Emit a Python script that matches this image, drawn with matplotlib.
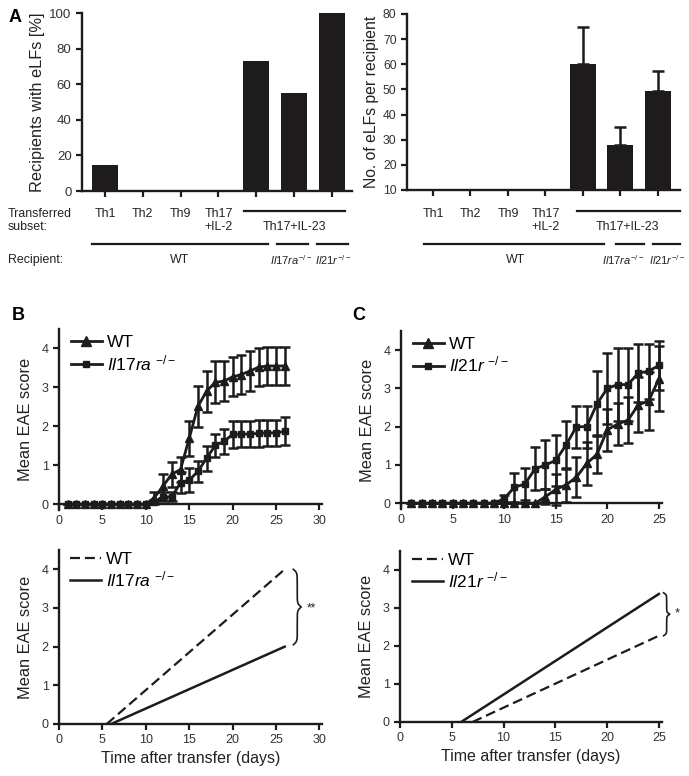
import numpy as np
import matplotlib
matplotlib.use("Agg")
import matplotlib.pyplot as plt
from matplotlib.transforms import blended_transform_factory
from matplotlib.lines import Line2D

plt.rcParams.update({
    "font.family": ["Liberation Sans", "DejaVu Sans"],
    "mathtext.fontset": "custom",
    "mathtext.rm": "Liberation Sans",
    "mathtext.it": "Liberation Sans:italic",
    "mathtext.bf": "Liberation Sans:bold",
    "axes.linewidth": 1.6,
})

# ---------------- data ----------------
subsets = ["Th1", "Th2", "Th9", "Th17\n+IL-2", "Th17+IL-23", "Th17+IL-23", "Th17+IL-23"]
pct_with_elf = [14.5, 0, 0, 0, 73, 55, 100]
elf_per_recipient = [0, 0, 0, 0, 60, 28, 49.5]
elf_per_recipient_err = [0, 0, 0, 0, 15, 7, 8]

days_B = list(range(1, 27))
wt_B = [0] * 10 + [0.17, 0.47, 0.77, 0.89, 1.69, 2.51, 2.9, 3.13, 3.16, 3.27, 3.33, 3.42, 3.52, 3.55, 3.55, 3.55]
wt_B_err = [0] * 10 + [0.15, 0.3, 0.32, 0.33, 0.45, 0.52, 0.52, 0.54, 0.52, 0.5, 0.5, 0.52, 0.48, 0.5, 0.5, 0.5]
il17ra_B = [0] * 10 + [0.06, 0.19, 0.19, 0.55, 0.62, 0.84, 1.18, 1.51, 1.61, 1.79, 1.8, 1.8, 1.82, 1.83, 1.83, 1.87]
il17ra_B_err = [0] * 10 + [0.05, 0.12, 0.12, 0.27, 0.3, 0.27, 0.32, 0.3, 0.33, 0.34, 0.34, 0.34, 0.34, 0.34, 0.34, 0.36]

days_C = list(range(1, 26))
wt_C = [0] * 13 + [0.17, 0.36, 0.48, 0.68, 1.04, 1.28, 1.92, 2.07, 2.17, 2.57, 2.67, 3.25]
wt_C_err = [0] * 13 + [0.2, 0.4, 0.45, 0.52, 0.55, 0.5, 0.55, 0.55, 0.6, 0.72, 0.75, 0.85]
il21r_C = [0] * 9 + [0.12, 0.42, 0.5, 0.9, 1.0, 1.12, 1.52, 2.0, 2.0, 2.6, 3.0, 3.1, 3.1, 3.4, 3.45, 3.6]
il21r_C_err = [0] * 9 + [0.1, 0.38, 0.42, 0.56, 0.64, 0.66, 0.62, 0.55, 0.55, 0.85, 0.93, 0.95, 0.95, 0.75, 0.72, 0.65]

fit_B_wt_x, fit_B_wt_y = [5.5, 26], [0, 4.0]
fit_B_ko_x, fit_B_ko_y = [6.0, 26], [0, 2.0]
fit_C_wt_x, fit_C_wt_y = [7.0, 25], [0, 2.27]
fit_C_ko_x, fit_C_ko_y = [5.9, 25], [0, 3.37]

# ---------------- figure ----------------
W, H = 689, 776
fig = plt.figure(figsize=(W / 100, H / 100), dpi=100)
DARK = "#1e1b1c"
TICKC = "#333333"
TXT = "#222222"


def add_ax(l, t, r, b):
    return fig.add_axes([l / W, 1 - b / H, (r - l) / W, (b - t) / H])


def style(ax, labelsize=9):
    for s in ("top", "right"):
        ax.spines[s].set_visible(False)
    for s in ("left", "bottom"):
        ax.spines[s].set_color(DARK)
        ax.spines[s].set_linewidth(1.7)
    ax.tick_params(direction="out", length=4.5, width=1.6, color=DARK,
                   labelsize=labelsize, labelcolor=TICKC, pad=3)


def yfig(ypix):
    return 1 - ypix / H


# ---------- Panel A left ----------
xcat = np.arange(len(subsets))
axA1 = add_ax(82, 13, 352, 191)
style(axA1, 9.5)
axA1.bar(xcat, pct_with_elf, width=0.69, color=DARK)
axA1.set_xlim(-0.608, 6.53)
axA1.set_ylim(0, 100)
axA1.set_yticks([0, 20, 40, 60, 80, 100])
axA1.set_xticks(xcat)
axA1.set_xticklabels([])
axA1.set_ylabel("Recipients with eLFs [%]", fontsize=11.8, labelpad=3, color=TXT)

# ---------- Panel A right ----------
axA2 = add_ax(407, 14, 680, 190)
style(axA2, 8.8)
axA2.bar(xcat, elf_per_recipient, width=0.69, color=DARK)
err_idx = [i for i, e in enumerate(elf_per_recipient_err) if e > 0]
axA2.errorbar([xcat[i] for i in err_idx], [elf_per_recipient[i] for i in err_idx],
              yerr=[[0] * len(err_idx), [elf_per_recipient_err[i] for i in err_idx]],
              fmt="none", ecolor=DARK, elinewidth=1.8, capsize=4, capthick=1.8)
axA2.set_xlim(-0.693, 6.59)
axA2.set_ylim(10, 80)
axA2.set_yticks(list(range(10, 81, 10)))
axA2.set_xticks(xcat)
axA2.set_xticklabels([])
axA2.set_ylabel("No. of eLFs per recipient", fontsize=11.3, labelpad=3, color=TXT)

# annotations under panel A
ann_fs = 8.9
ko_fs = 8.0
for ax, th_line, wt_line, ra_line, r_line, th_txt, wt_txt, ra_txt, r_txt in [
    (axA1, (3.68, 6.35), (-0.34, 4.31), (4.55, 5.37), (5.61, 6.43), 5.0, 1.98, 4.93, 6.04),
    (axA2, (3.84, 6.59), (-0.24, 4.56), (4.88, 5.63), (5.87, 6.59), 5.2, 2.2, 5.08, 6.25),
]:
    tr = blended_transform_factory(ax.transData, fig.transFigure)
    for i in range(4):
        ax.text(xcat[i], yfig(208), subsets[i], transform=tr, ha="center", va="top",
                fontsize=ann_fs, color=TXT, linespacing=1.1)
    ax.add_line(Line2D(list(th_line), [yfig(211)] * 2, transform=tr, color=DARK, lw=1.6, clip_on=False))
    ax.text(th_txt, yfig(227), subsets[4], transform=tr, ha="center", va="center",
            fontsize=ann_fs, color=TXT)
    for seg in (wt_line, ra_line, r_line):
        ax.add_line(Line2D(list(seg), [yfig(244)] * 2, transform=tr, color=DARK, lw=1.6, clip_on=False))
    ax.text(wt_txt, yfig(260), "WT", transform=tr, ha="center", va="center", fontsize=ann_fs, color=TXT)
    ax.text(ra_txt, yfig(260), r"$\mathit{Il17ra}^{-/-}$", transform=tr, ha="center", va="center",
            fontsize=ko_fs, color=TXT)
    ax.text(r_txt, yfig(260), r"$\mathit{Il21r}^{-/-}$", transform=tr, ha="center", va="center",
            fontsize=ko_fs, color=TXT)

fig.text(8 / W, yfig(220.5), "Transferred\nsubset:", ha="left", va="center", fontsize=ann_fs,
         color=TXT, linespacing=1.15)
fig.text(8 / W, yfig(260), "Recipient:", ha="left", va="center", fontsize=ann_fs, color=TXT)

# panel letters
fig.text(9 / W, yfig(18), "A", fontsize=13, fontweight="bold", ha="left", va="center")
fig.text(12 / W, yfig(315), "B", fontsize=13, fontweight="bold", ha="left", va="center")
fig.text(352 / W, yfig(315), "C", fontsize=13, fontweight="bold", ha="left", va="center")


def score_axes(ax, xmax, xticks):
    style(ax, 9)
    ax.set_xlim(0, xmax)
    ax.set_xticks(xticks)
    ax.set_yticks([0, 1, 2, 3, 4])
    ax.set_ylabel("Mean EAE score", fontsize=11.8, labelpad=6, color=TXT)


def curve(ax, days, mean, err, marker, ms):
    ax.errorbar(days, mean, yerr=err, color=DARK, lw=2.0, marker=marker, ms=ms,
                mfc=DARK, mec=DARK, elinewidth=1.8, capsize=3.5, capthick=1.8,
                clip_on=False, zorder=3)


def brace(ax, x, y0, y1, w):
    t = np.linspace(0, 0.5, 150)
    beta = 45.0
    h = 1 / (1 + np.exp(-beta * (t - t[0]))) + 1 / (1 + np.exp(-beta * (t - t[-1])))
    prof = np.concatenate((h, h[-2::-1]))
    prof = (prof - prof.min()) / (prof.max() - prof.min())
    ys = np.linspace(y0, y1, len(prof))
    ax.plot(x + w * prof, ys, color=DARK, lw=1.2, clip_on=False)


lab17 = r"$\mathit{Il17ra}$ $^{-/-}$"
lab21 = r"$\mathit{Il21r}$ $^{-/-}$"
leg_kw = dict(loc="upper left", frameon=False, fontsize=12.5, handlelength=1.8,
              handletextpad=0.3, labelspacing=0.15, borderaxespad=0, borderpad=0)

h_tri = Line2D([], [], color=DARK, lw=2.0, marker="^", ms=6.5)
h_sq = Line2D([], [], color=DARK, lw=2.0, marker="s", ms=5)
h_dash = Line2D([], [], color=DARK, lw=1.6, dashes=(4.5, 2.2))
h_solid = Line2D([], [], color=DARK, lw=1.8)

# ---------- Panel B top ----------
axB1 = add_ax(59, 329, 322, 510)
score_axes(axB1, 30.3, range(0, 31, 5))
axB1.set_ylim(-0.15, 4.5)
axB1.spines["bottom"].set_position(("data", 0))
curve(axB1, days_B, il17ra_B, il17ra_B_err, "s", 4.5)
curve(axB1, days_B, wt_B, wt_B_err, "^", 6)
axB1.legend([h_tri, h_sq], ["WT", lab17], bbox_to_anchor=(0.045, 0.965), **leg_kw)

# ---------- Panel C top ----------
axC1 = add_ax(401, 331, 662, 509)
score_axes(axC1, 25.3, range(0, 26, 5))
axC1.set_ylim(-0.15, 4.5)
axC1.spines["bottom"].set_position(("data", 0))
curve(axC1, days_C, wt_C, wt_C_err, "^", 6)
curve(axC1, days_C, il21r_C, il21r_C_err, "s", 4.5)
axC1.legend([h_tri, h_sq], ["WT", lab21], bbox_to_anchor=(0.045, 0.965), **leg_kw)

# ---------- Panel B bottom ----------
axB2 = add_ax(59, 550, 322, 724)
score_axes(axB2, 30.3, range(0, 31, 5))
axB2.set_ylim(0, 4.5)
axB2.plot(fit_B_wt_x, fit_B_wt_y, color=DARK, lw=1.6, dashes=(4.5, 2.2))
axB2.plot(fit_B_ko_x, fit_B_ko_y, color=DARK, lw=1.8)
axB2.legend([h_dash, h_solid], ["WT", lab17], bbox_to_anchor=(0.04, 0.99), **leg_kw)
axB2.set_xlabel("Time after transfer (days)", fontsize=11.5, labelpad=3, color=TXT)
brace(axB2, 27.0, 2.05, 4.0, 0.9)
axB2.text(29.1, 3.0, "**", ha="center", va="center", fontsize=8.5, color=TXT)

# ---------- Panel C bottom ----------
axC2 = add_ax(400, 551, 662, 722)
score_axes(axC2, 25.3, range(0, 26, 5))
axC2.set_ylim(0, 4.5)
axC2.plot(fit_C_wt_x, fit_C_wt_y, color=DARK, lw=1.6, dashes=(4.5, 2.2))
axC2.plot(fit_C_ko_x, fit_C_ko_y, color=DARK, lw=1.8)
axC2.legend([h_dash, h_solid], ["WT", lab21], bbox_to_anchor=(0.045, 0.99), **leg_kw)
axC2.set_xlabel("Time after transfer (days)", fontsize=11.5, labelpad=3, color=TXT)
brace(axC2, 25.45, 2.27, 3.4, 0.6)
axC2.text(26.8, 2.85, "*", ha="center", va="center", fontsize=9.5, color=TXT)

fig.savefig("out.png", dpi=100)
